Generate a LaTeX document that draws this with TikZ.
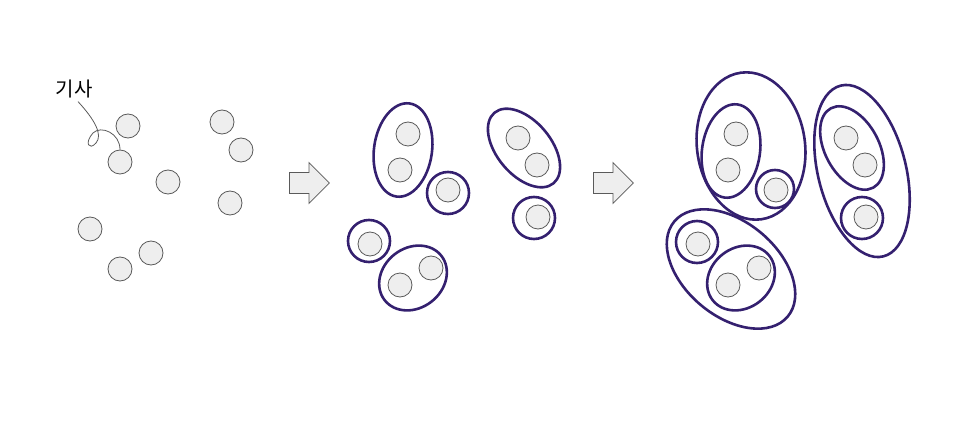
\documentclass[tikz,border=0pt]{standalone}
\usepackage{fontspec}
\usepackage{tikz}
\usetikzlibrary{shapes.arrows}
\newfontfamily\krfont{Noto Sans CJK KR}
\definecolor{dotgray}{HTML}{EEEEEE}
\definecolor{edgegray}{HTML}{5A5A5A}
\definecolor{clusterpurple}{HTML}{34206F}

\begin{document}
\begin{tikzpicture}[
  x=1pt, y=-1pt,
  dot/.style={draw=edgegray, fill=dotgray, circle, minimum size=24pt, inner sep=0pt, line width=0.8pt},
  grp/.style={draw=clusterpurple, line width=2.6pt},
  stepper/.style={single arrow, draw=edgegray, fill=dotgray, line width=0.8pt, minimum height=40pt, inner xsep=0pt, inner ysep=10pt, single arrow head extend=10pt, single arrow tip angle=90, anchor=tail},
  lbl/.style={draw=edgegray, line width=0.8pt}
]
  \useasboundingbox (0,0) rectangle (960,422);

  % articles, unsorted
  \foreach \n/\x/\y in {a1/128/126, a2/120/162, a3/168/182, a4/222/122, a5/241/150,
                        a6/230/203, a7/90/229, a8/151/253, a9/120/269}
    \node[dot] (\n) at (\x,\y) {};

  \node[font=\krfont\fontsize{20}{24}\selectfont] (kisa) at (74,89) {기사};
  \draw[lbl] ([xshift=4pt]kisa.south) .. controls (95,120) and (103,135) .. (96,143)
    .. controls (89,151) and (84,143) .. (93,133)
    .. controls (101,125) and (120,133) .. (a2.north);

  % first step
  \node[stepper] (s1) at (289,183) {};

  \foreach \n/\x/\y in {b1/408/134, b2/400/170, b3/448/190, b4/518/138, b5/537/165,
                        b6/538/217, b7/370/244, b8/431/268, b9/400/285}
    \node[dot] (\n) at (\x,\y) {};

  \draw[grp, rotate around={82:(403,150)}] (403,150) ellipse [x radius=47, y radius=29];
  \draw[grp] (448,193) circle [radius=21];
  \draw[grp, rotate around={-50:(524,148)}] (524,148) ellipse [x radius=46, y radius=27];
  \draw[grp] (534,218) circle [radius=21];
  \draw[grp] (369,241) circle [radius=21];
  \draw[grp, rotate around={38:(413,278)}] (413,278) ellipse [x radius=36, y radius=30];

  % second step
  \node[stepper] (s2) at (593,183) {};

  \foreach \n/\x/\y in {c1/736/134, c2/728/170, c3/776/190, c4/846/138, c5/865/165,
                        c6/866/217, c7/698/244, c8/759/268, c9/728/285}
    \node[dot] (\n) at (\x,\y) {};

  \draw[grp, rotate around={82:(731,151)}] (731,151) ellipse [x radius=47, y radius=29];
  \draw[grp] (775,189) circle [radius=19];
  \draw[grp, rotate around={98:(751,146)}] (751,146) ellipse [x radius=74, y radius=54];
  \draw[grp, rotate around={-62:(852,148)}] (852,148) ellipse [x radius=45, y radius=27];
  \draw[grp] (862,218) circle [radius=21];
  \draw[grp, rotate around={104:(862,171)}] (862,171) ellipse [x radius=88, y radius=44];
  \draw[grp] (697,242) circle [radius=21];
  \draw[grp, rotate around={38:(741,278)}] (741,278) ellipse [x radius=36, y radius=30];
  \draw[grp, rotate around={-40:(731,269)}] (731,269) ellipse [x radius=74, y radius=47];

\end{tikzpicture}
\end{document}
